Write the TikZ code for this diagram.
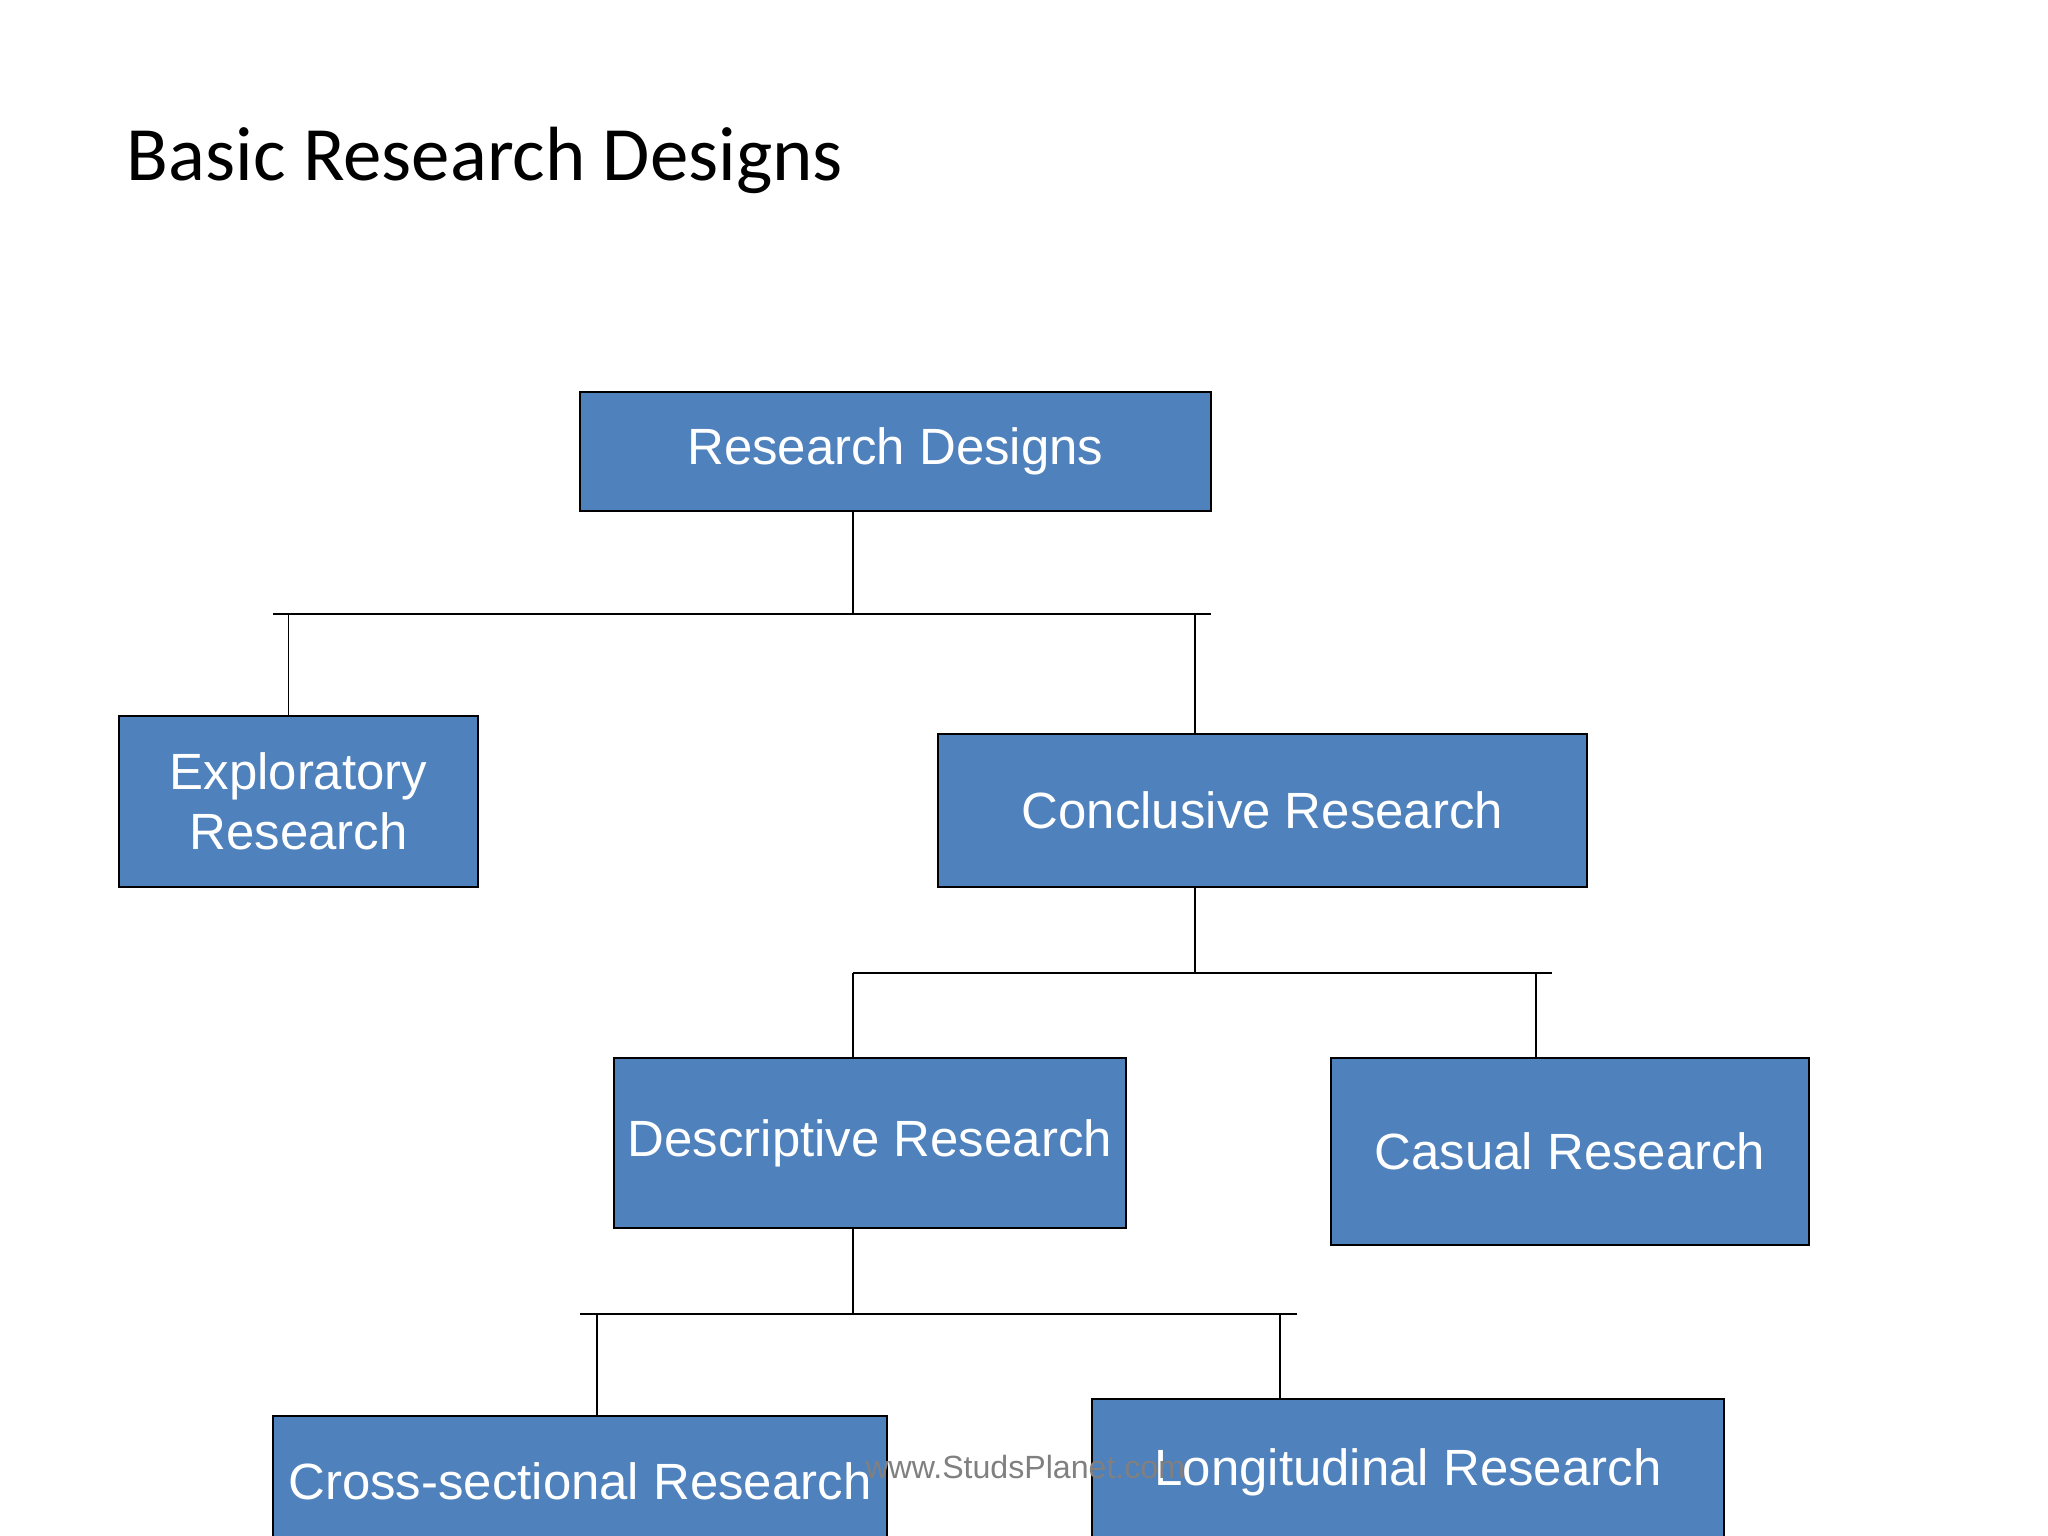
\documentclass[tikz,border=0pt]{standalone}
\usepackage{fontspec}
\setmainfont{Liberation Sans}
\newfontfamily\titlefont{Carlito}
\begin{document}
\begin{tikzpicture}[x=0.02cm,y=-0.02cm,
  box/.style={draw=black,fill=boxblue,text=white,font=\fontsize{22.2}{26}\selectfont,align=center,inner sep=0pt,line width=0.7pt},
  conn/.style={draw=black,line width=0.7pt}]
\definecolor{boxblue}{HTML}{4F81BD}
\useasboundingbox (0,0) rectangle (1568,1176);
\node[anchor=west,font=\titlefont\fontsize{33.5}{40}\selectfont] (title) at (91,123) {Basic Research Designs};
\node[box,minimum width=483*0.02cm,minimum height=91*0.02cm] (rd) at (685.5,345.5) {\raisebox{-3pt}{Research Designs}};
\node[box,minimum width=275*0.02cm,minimum height=131*0.02cm] (ex) at (228.5,613.5) {Exploratory\\ Research};
\node[box,minimum width=497*0.02cm,minimum height=117*0.02cm] (co) at (966.5,620.5) {Conclusive Research};
\node[box,minimum width=392*0.02cm,minimum height=130*0.02cm] (de) at (666,875) {Descriptive Research};
\node[box,minimum width=366*0.02cm,minimum height=143*0.02cm] (ca) at (1202,881.5) {Casual Research};
\node[box,minimum width=470*0.02cm,minimum height=100*0.02cm] (cs) at (444,1134) {Cross-sectional Research};
\node[box,minimum width=484*0.02cm,minimum height=113*0.02cm] (lo) at (1078,1127.5) {Longitudinal Research};
\node[text=gray,font=\fontsize{14}{16}\selectfont] (wm) at (785,1123) {www.StudsPlanet.com};
\coordinate (j1) at (653,470);
\coordinate (j2) at (915,745);
\coordinate (j3) at (653,1006);
\draw[conn] (rd.south -| j1) -- (j1);
\draw[conn] (209,470) -- (927,470);
\draw[conn] (221,470) -- (ex.north -| 221,0);
\draw[conn] (915,470) -- (co.north -| 915,0);
\draw[conn] (co.south -| j2) -- (j2);
\draw[conn] (653,745) -- (1188,745);
\draw[conn] (653,745) -- (de.north -| 653,0);
\draw[conn] (1176,745) -- (ca.north -| 1176,0);
\draw[conn] (de.south -| j3) -- (j3);
\draw[conn] (444,1006) -- (993,1006);
\draw[conn] (457,1006) -- (cs.north -| 457,0);
\draw[conn] (980,1006) -- (lo.north -| 980,0);
\end{tikzpicture}
\end{document}
